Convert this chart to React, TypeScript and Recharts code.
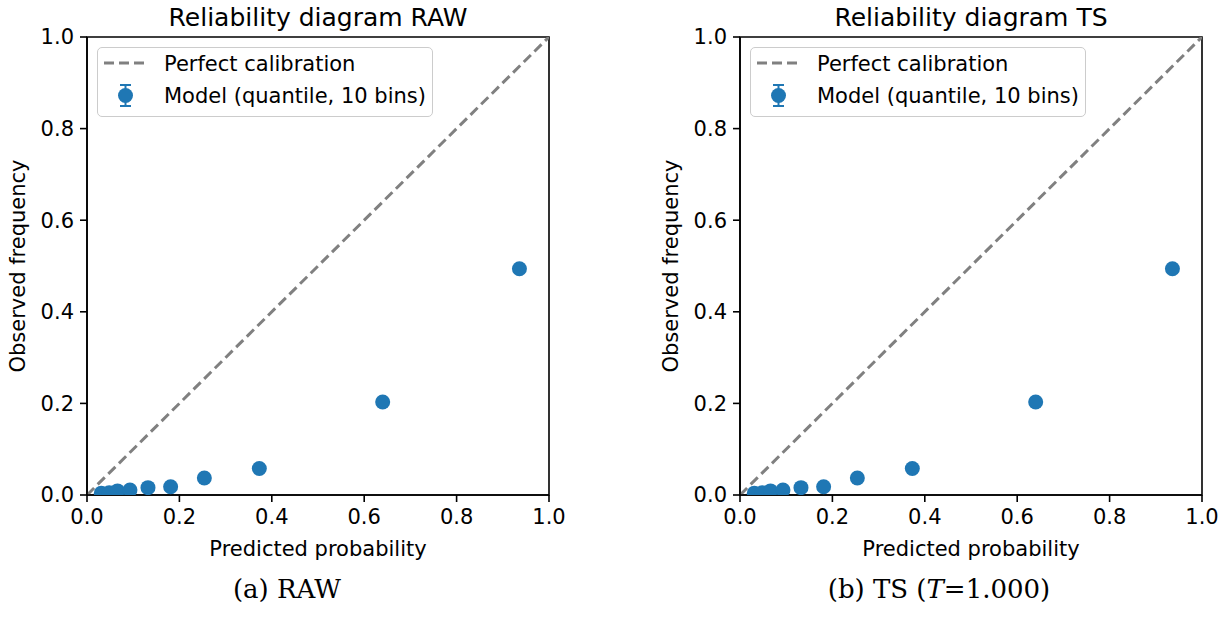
import React from "react";
import {
  ComposedChart,
  Line,
  Scatter,
  XAxis,
  YAxis,
  Legend,
  ReferenceArea,
} from "recharts";

// ---- data ----
const predRaw = [0.031, 0.048, 0.066, 0.093, 0.132, 0.181, 0.254, 0.373, 0.64, 0.936];
const obsRaw = [0.004, 0.005, 0.009, 0.011, 0.016, 0.018, 0.037, 0.058, 0.203, 0.494];
const predTs = [0.031, 0.048, 0.066, 0.093, 0.132, 0.181, 0.254, 0.373, 0.64, 0.936];
const obsTs = [0.004, 0.005, 0.009, 0.011, 0.016, 0.018, 0.037, 0.058, 0.203, 0.494];
const diagX = [0, 1];
const diagY = [0, 1];
const ticks = [0, 0.2, 0.4, 0.6, 0.8, 1.0];
const titles = ["Reliability diagram RAW", "Reliability diagram TS"];
const legendLabels = ["Perfect calibration", "Model (quantile, 10 bins)"];
const xLabel = "Predicted probability";
const yLabel = "Observed frequency";

const SANS = "'DejaVu Sans', sans-serif";
const SERIF = "'DejaVu Serif', serif";
const BLUE = "#1f77b4";
const GRAY = "#808080";
const FS = 21;

const CW = 575;
const CH = 580;
const margin = { top: 37, left: 27, right: 26, bottom: 25 };

const Dot = (props: any) => {
  const { cx, cy } = props;
  if (cx == null || cy == null) return null;
  return <circle cx={cx} cy={cy} r={7.5} fill={BLUE} />;
};

const LegendBox = () => (
  <div
    style={{
      width: 336,
      height: 70,
      boxSizing: "border-box",
      border: "1.6px solid #cccccc",
      borderRadius: 5,
      background: "rgba(255,255,255,0.8)",
      position: "relative",
    }}
  >
    <svg width={336} height={70} style={{ position: "absolute", left: -1.6, top: -1.6 }}>
      <line x1={8} y1={17} x2={51} y2={17} stroke={GRAY} strokeWidth={3} strokeDasharray="10 5" />
      <line x1={29.5} y1={39} x2={29.5} y2={60} stroke={BLUE} strokeWidth={2} />
      <line x1={24} y1={39} x2={35} y2={39} stroke={BLUE} strokeWidth={2} />
      <line x1={24} y1={60} x2={35} y2={60} stroke={BLUE} strokeWidth={2} />
      <circle cx={29.5} cy={49.5} r={7.5} fill={BLUE} />
      <text x={68} y={24.5} fontFamily={SANS} fontSize={FS} fill="#000">
        {legendLabels[0]}
      </text>
      <text x={68} y={57} fontFamily={SANS} fontSize={FS} fill="#000">
        {legendLabels[1]}
      </text>
    </svg>
  </div>
);

const YLab = (props: any) => {
  const vb = props.viewBox || {};
  const cx = 18;
  const cy = vb.y + vb.height / 2;
  return (
    <text
      x={cx}
      y={cy}
      transform={`rotate(-90, ${cx}, ${cy})`}
      textAnchor="middle"
      dominantBaseline="central"
      fontFamily={SANS}
      fontSize={FS}
      fill="#000"
    >
      {yLabel}
    </text>
  );
};

const XLab = (props: any) => {
  const vb = props.viewBox || {};
  return (
    <text
      x={vb.x + vb.width / 2}
      y={556}
      textAnchor="middle"
      fontFamily={SANS}
      fontSize={FS}
      fill="#000"
    >
      {xLabel}
    </text>
  );
};

function Panel({ pred, obs }: { pred: number[]; obs: number[] }) {
  const pts = pred.map((p, i) => ({ x: p, y: obs[i] }));
  const diag = diagX.map((x, i) => ({ x, y: diagY[i] }));
  const tickStyle = { fontFamily: SANS, fontSize: FS, fill: "#000" };
  return (
    <ComposedChart width={CW} height={CH} margin={margin}>
      <XAxis
        type="number"
        dataKey="x"
        domain={[0, 1]}
        ticks={ticks}
        tickFormatter={(v: number) => v.toFixed(1)}
        allowDataOverflow
        height={60}
        tick={tickStyle}
        tickSize={7}
        tickMargin={7}
        axisLine={{ stroke: "#000", strokeWidth: 1.6 }}
        tickLine={{ stroke: "#000", strokeWidth: 1.6 }}
        interval={0}
        label={<XLab />}
      />
      <YAxis
        type="number"
        dataKey="y"
        domain={[0, 1]}
        ticks={ticks}
        tickFormatter={(v: number) => v.toFixed(1)}
        allowDataOverflow
        width={60}
        tick={tickStyle}
        tickSize={7}
        tickMargin={6}
        axisLine={{ stroke: "#000", strokeWidth: 1.6 }}
        tickLine={{ stroke: "#000", strokeWidth: 1.6 }}
        interval={0}
        label={<YLab />}
      />
      <ReferenceArea
        x1={0}
        x2={1}
        y1={0}
        y2={1}
        fill="none"
        fillOpacity={0}
        stroke="#000"
        strokeWidth={1.6}
        ifOverflow="visible"
      />
      <Line
        data={diag}
        dataKey="y"
        stroke={GRAY}
        strokeWidth={3}
        strokeDasharray="10 5"
        dot={false}
        activeDot={false}
        isAnimationActive={false}
        legendType="none"
      />
      <Scatter data={pts} dataKey="y" shape={<Dot />} isAnimationActive={false} />
      <Legend
        layout="vertical"
        align="center"
        verticalAlign="middle"
        content={<LegendBox />}
        wrapperStyle={{ left: 97, top: 47, width: 336, height: 70 }}
      />
    </ComposedChart>
  );
}

export default function App() {
  return (
    <div
      style={{
        position: "absolute",
        left: 0,
        top: 0,
        width: 1228,
        height: 633,
        background: "#fff",
        overflow: "hidden",
      }}
    >
      <div style={{ position: "absolute", left: 0, top: 0 }}>
        <Panel pred={predRaw} obs={obsRaw} />
      </div>
      <div style={{ position: "absolute", left: 653, top: 0 }}>
        <Panel pred={predTs} obs={obsTs} />
      </div>
      <svg
        width={1228}
        height={633}
        style={{ position: "absolute", left: 0, top: 0, pointerEvents: "none" }}
      >
        <text x={318} y={26} textAnchor="middle" fontFamily={SANS} fontSize={25} fill="#000">
          {titles[0]}
        </text>
        <text x={971} y={26} textAnchor="middle" fontFamily={SANS} fontSize={25} fill="#000">
          {titles[1]}
        </text>
        <text x={287} y={598} textAnchor="middle" fontFamily={SERIF} fontSize={26} fill="#000">
          (a) RAW
        </text>
        <text x={939} y={598} textAnchor="middle" fontFamily={SERIF} fontSize={26} fill="#000">
          (b) TS (<tspan fontStyle="italic">T</tspan>=1.000)
        </text>
      </svg>
    </div>
  );
}
